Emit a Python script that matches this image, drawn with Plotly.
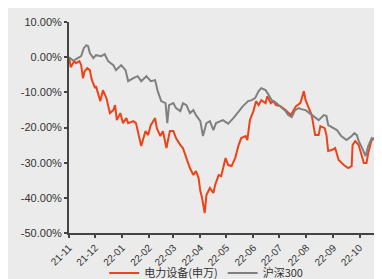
import plotly.graph_objects as go

# 电力设备(申万) cumulative return, %
red_dates = ["2021-11-01","2021-11-03","2021-11-07","2021-11-09","2021-11-13","2021-11-15","2021-11-17","2021-11-19",
             "2021-11-22","2021-11-25","2021-11-27","2021-12-01","2021-12-02","2021-12-07","2021-12-10","2021-12-14",
             "2021-12-18","2021-12-22","2021-12-24","2021-12-26","2021-12-30","2022-01-02","2022-01-06","2022-01-08",
             "2022-01-14","2022-01-17","2022-01-23","2022-01-28","2022-01-31","2022-02-03","2022-02-08","2022-02-10",
             "2022-02-14","2022-02-17","2022-02-21","2022-02-25","2022-03-01","2022-03-04","2022-03-09","2022-03-12",
             "2022-03-16","2022-03-20","2022-03-24","2022-03-27","2022-03-30","2022-04-01","2022-04-03","2022-04-06",
             "2022-04-08","2022-04-12","2022-04-16","2022-04-18","2022-04-22","2022-04-25","2022-04-30","2022-05-03",
             "2022-05-07","2022-05-11","2022-05-15","2022-05-18","2022-05-23","2022-05-25","2022-05-28","2022-06-01",
             "2022-06-04","2022-06-07","2022-06-10","2022-06-15","2022-06-17","2022-06-21","2022-06-24","2022-06-27",
             "2022-07-02","2022-07-08","2022-07-14","2022-07-17","2022-07-20","2022-07-25","2022-07-29","2022-07-31",
             "2022-08-03","2022-08-07","2022-08-11","2022-08-15","2022-08-17","2022-08-22","2022-08-24","2022-08-26",
             "2022-08-30","2022-09-03","2022-09-07","2022-09-13","2022-09-18","2022-09-22","2022-09-23","2022-09-26",
             "2022-09-30","2022-10-02","2022-10-06","2022-10-09","2022-10-11","2022-10-15","2022-10-18","2022-10-21",
             "2022-10-24","2022-10-25","2022-10-28"]
red_values = [0.0,-2.84,-1.14,-1.70,-1.14,-2.27,-5.97,-3.98,
              -3.13,-3.69,-6.25,-8.81,-8.24,-12.5,-9.38,-11.65,
              -15.91,-15.06,-13.64,-17.9,-15.91,-18.75,-17.33,-18.75,
              -18.18,-18.75,-25.28,-21.02,-22.16,-19.32,-17.33,-20.17,
              -22.44,-21.02,-25.85,-21.02,-21.02,-23.01,-25.0,-25.85,
              -28.69,-31.53,-33.52,-32.39,-34.38,-38.07,-40.06,-44.32,
              -39.2,-37.22,-38.64,-36.36,-33.52,-33.81,-28.69,-30.68,
              -30.97,-28.69,-25.0,-23.01,-22.44,-23.58,-17.9,-15.34,
              -12.5,-13.64,-12.22,-13.07,-11.08,-13.07,-12.5,-13.64,
              -13.92,-15.06,-16.48,-15.34,-13.92,-13.07,-9.66,-12.22,
              -13.92,-16.48,-22.16,-22.16,-19.6,-20.17,-22.16,-26.7,
              -26.42,-25.85,-29.26,-30.68,-31.53,-30.97,-25.0,-23.86,
              -25.0,-26.7,-30.11,-30.11,-27.27,-23.58,-23.01,-26.42,
              -27.27,-26.42,-28.69]

# 沪深300 cumulative return, %
gray_dates = ["2021-11-01","2021-11-06","2021-11-11","2021-11-15","2021-11-18","2021-11-21","2021-11-23","2021-11-25",
              "2021-11-29","2021-12-02","2021-12-08","2021-12-12","2021-12-16","2021-12-22","2021-12-25","2021-12-31",
              "2022-01-05","2022-01-08","2022-01-14","2022-01-19","2022-01-23","2022-01-29","2022-01-31","2022-02-03",
              "2022-02-08","2022-02-11","2022-02-15","2022-02-20","2022-02-22","2022-02-24","2022-03-01","2022-03-04",
              "2022-03-09","2022-03-12","2022-03-16","2022-03-20","2022-03-24","2022-03-27","2022-04-01","2022-04-04",
              "2022-04-08","2022-04-12","2022-04-16","2022-04-19","2022-04-27","2022-05-03","2022-05-09","2022-05-15",
              "2022-05-20","2022-05-26","2022-05-30","2022-06-03","2022-06-07","2022-06-10","2022-06-15","2022-06-18",
              "2022-06-22","2022-06-26","2022-06-30","2022-07-03","2022-07-08","2022-07-11","2022-07-15","2022-07-19",
              "2022-07-23","2022-07-26","2022-07-31","2022-08-03","2022-08-09","2022-08-15","2022-08-21","2022-08-24",
              "2022-08-26","2022-09-01","2022-09-05","2022-09-10","2022-09-16","2022-09-22","2022-09-25","2022-09-28",
              "2022-09-30","2022-10-03","2022-10-08","2022-10-11","2022-10-15","2022-10-19","2022-10-23","2022-10-25",
              "2022-10-28"]
gray_values = [0.0,-1.05,-0.28,0.28,2.56,3.41,3.13,1.14,
               -0.28,0.57,0.28,0.85,-1.14,-2.27,-3.69,-2.27,
               -3.69,-6.82,-5.97,-5.40,-6.82,-5.40,-5.97,-6.82,
               -6.53,-9.66,-12.5,-13.07,-18.75,-13.64,-13.07,-14.49,
               -15.34,-13.07,-13.64,-15.91,-15.06,-16.48,-18.18,-22.44,
               -18.75,-18.18,-20.74,-18.75,-17.9,-18.9,-17.33,-15.34,
               -13.92,-12.5,-12.22,-11.65,-9.66,-8.81,-9.38,-10.51,
               -12.22,-12.78,-13.64,-14.49,-15.34,-16.48,-17.05,-15.06,
               -14.49,-14.77,-15.06,-15.62,-16.76,-17.9,-16.48,-16.76,
               -19.32,-20.17,-20.74,-22.44,-23.58,-22.44,-21.59,-22.16,
               -23.86,-25.28,-28.13,-25.28,-23.01,-23.58,-22.44,-21.02,
               -22.44]

x_tick_vals = ["2021-11-01","2021-12-01","2022-01-01","2022-02-01","2022-03-01","2022-04-01",
               "2022-05-01","2022-06-01","2022-07-01","2022-08-01","2022-09-01","2022-10-01"]
x_tick_text = ["21-11","21-12","22-01","22-02","22-03","22-04","22-05","22-06","22-07","22-08","22-09","22-10"]
y_tick_vals = [10, 0, -10, -20, -30, -40, -50]
y_tick_text = ["10.00%", "0.00%", "-10.00%", "-20.00%", "-30.00%", "-40.00%", "-50.00%"]

RED = "#ec4319"
GRAY = "#808080"
AXIS = "#444444"
BG = "#ebebeb"
FONT = "Liberation Sans, Arial, Noto Sans CJK SC, sans-serif"

fig = go.Figure()
fig.add_trace(go.Scatter(x=red_dates, y=red_values, mode="lines", name="电力设备(申万)",
                         line=dict(color=RED, width=2)))
fig.add_trace(go.Scatter(x=gray_dates, y=gray_values, mode="lines", name="沪深300",
                         line=dict(color=GRAY, width=2)))

fig.update_layout(
    width=382, height=279,
    margin=dict(l=61, r=7, t=14, b=54, autoexpand=False),
    paper_bgcolor=BG, plot_bgcolor=BG,
    font=dict(family=FONT, size=10, color="#333333"),
    showlegend=True,
    legend=dict(orientation="h", x=0.437, xanchor="center", y=-0.19, yanchor="middle",
                font=dict(family="Noto Sans CJK SC, Liberation Sans, sans-serif", size=11, color="#333333"),
                bgcolor="rgba(0,0,0,0)", itemwidth=30, tracegroupgap=0),
    xaxis=dict(type="date", range=["2021-11-01", "2022-10-28"], automargin=False,
               tickvals=x_tick_vals, ticktext=x_tick_text, tickangle=-45,
               showgrid=False, zeroline=False, showline=True, linecolor=AXIS, linewidth=2,
               ticks="outside", ticklen=3, tickwidth=2, tickcolor=AXIS,
               tickfont=dict(size=10, color="#333333")),
    yaxis=dict(range=[-50, 10], tickvals=y_tick_vals, ticktext=y_tick_text, automargin=False,
               showgrid=False, zeroline=False, showline=True, linecolor=AXIS, linewidth=2,
               ticks="outside", ticklen=3, tickwidth=2, tickcolor=AXIS,
               tickfont=dict(size=11, color="#333333")),
)

fig.write_html("out.html")
